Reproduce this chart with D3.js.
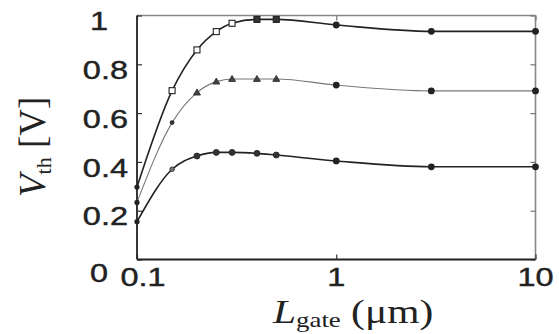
<!DOCTYPE html>
<html>
<head>
<meta charset="utf-8">
<script src="https://cdn.jsdelivr.net/npm/d3@7"></script>
<style>
  html, body { margin: 0; padding: 0; background: #fff; }
  svg { display: block; }
</style>
</head>
<body>
<svg id="chart" width="559" height="334"></svg>
<script>
// ---- data ----
const gateLengths = [0.1, 0.15, 0.2, 0.25, 0.3, 0.4, 0.5, 1, 3, 10];
const seriesTop    = [0.297, 0.692, 0.859, 0.934, 0.968, 0.984, 0.984, 0.961, 0.935, 0.935];
const seriesMiddle = [0.234, 0.561, 0.684, 0.729, 0.740, 0.740, 0.740, 0.715, 0.691, 0.691];
const seriesBottom = [0.155, 0.370, 0.424, 0.439, 0.439, 0.435, 0.428, 0.404, 0.380, 0.380];
const yTicks = [0, 0.2, 0.4, 0.6, 0.8, 1];
const yTickLabels = ["0", "0.2", "0.4", "0.6", "0.8", "1"];
const xTicks = [0.1, 1, 10];
const xTickLabels = ["0.1", "1", "10"];

(function () {
const svg = d3.select("#chart");
const pLeft = 137, pRight = 535.5, pTop = 15.5, pBottom = 259.5;

const x = d3.scaleLog().domain([0.1, 10]).range([pLeft, pRight]);
const y = d3.scaleLinear().domain([0, 1]).range([pBottom, pTop]);

// frame
svg.append("line").attr("x1", pLeft).attr("x2", pRight).attr("y1", pTop).attr("y2", pTop)
  .attr("stroke", "#888").attr("stroke-width", 1.6);
svg.append("line").attr("x1", pRight).attr("x2", pRight).attr("y1", pTop).attr("y2", pBottom)
  .attr("stroke", "#888").attr("stroke-width", 1.6);

// axes via d3 (inward ticks)
const yAxisL = d3.axisLeft(y).tickValues(yTicks).tickSize(-5).tickFormat("");
const yAxisR = d3.axisRight(y).tickValues(yTicks).tickSize(-5).tickFormat("");
const xAxisB = d3.axisBottom(x).tickValues(xTicks).tickSize(-5).tickFormat("");
const xAxisT = d3.axisTop(x).tickValues(xTicks).tickSize(-5).tickFormat("");

function styleAxis(g, col, w) {
  g.select(".domain").remove();
  g.selectAll("line").attr("stroke", col).attr("stroke-width", w);
}
svg.append("g").attr("transform", `translate(${pRight},0)`).call(yAxisR).call(g => styleAxis(g, "#777", 1.2));
svg.append("g").attr("transform", `translate(0,${pTop})`).call(xAxisT).call(g => styleAxis(g, "#777", 1.2));
svg.append("g").attr("transform", `translate(${pLeft},0)`).call(yAxisL).call(g => styleAxis(g, "#333", 1.2));
svg.append("g").attr("transform", `translate(0,${pBottom})`).call(xAxisB).call(g => styleAxis(g, "#333", 1.2));

svg.append("line").attr("x1", pLeft).attr("x2", pLeft).attr("y1", pTop).attr("y2", pBottom)
  .attr("stroke", "#222").attr("stroke-width", 1.8);
svg.append("line").attr("x1", pLeft).attr("x2", pRight).attr("y1", pBottom).attr("y2", pBottom)
  .attr("stroke", "#222").attr("stroke-width", 1.8);

// tick labels
const tickFont = "'Liberation Sans', Arial, sans-serif";
yTicks.forEach((v, i) => {
  const lab = yTickLabels[i];
  const isInt = Number.isInteger(v);
  const ax = isInt ? 108 : 128;
  const ay = y(v) + (v === 0 ? 14 : 6);
  svg.append("text")
    .attr("transform", `translate(${ax},${ay}) scale(1.3,1)`)
    .attr("text-anchor", "end").attr("dominant-baseline", "central")
    .attr("font-family", tickFont).attr("font-size", 25).attr("fill", "#222")
    .attr("stroke", "#222").attr("stroke-width", 0.4)
    .text(lab);
});
xTicks.forEach((v, i) => {
  const dx = i === 0 ? 6 : 0;
  svg.append("text")
    .attr("transform", `translate(${x(v) + dx},${pBottom + 17.5}) scale(1.3,1)`)
    .attr("text-anchor", "middle").attr("dominant-baseline", "central")
    .attr("font-family", tickFont).attr("font-size", 25).attr("fill", "#222")
    .attr("stroke", "#222").attr("stroke-width", 0.4)
    .text(xTickLabels[i]);
});

// axis titles (serif)
const serif = "'Liberation Serif', 'Times New Roman', serif";
const xt = svg.append("text")
  .attr("transform", `translate(273,323) scale(1.22,1)`)
  .attr("font-family", serif).attr("font-size", 34).attr("fill", "#222");
xt.append("tspan").attr("font-style", "italic").text("L");
xt.append("tspan").attr("font-size", 22).attr("dy", 4).text("gate");
xt.append("tspan").attr("dy", -4).text(" (μm)");

const yt = svg.append("text")
  .attr("transform", `translate(45,197) rotate(-90)`)
  .attr("font-family", serif).attr("font-size", 37).attr("fill", "#222");
yt.append("tspan").attr("font-style", "italic").text("V");
yt.append("tspan").attr("font-size", 22).attr("dy", 6).text("th");
yt.append("tspan").attr("dy", -6).text(" [V]");

// lines
const line = d3.line().x(d => x(d[0])).y(d => y(d[1])).curve(d3.curveMonotoneX);
const seriesDefs = [
  { vals: seriesTop, color: "#222", width: 1.6, marker: "square" },
  { vals: seriesMiddle, color: "#777", width: 1.1, marker: "triangle" },
  { vals: seriesBottom, color: "#222", width: 1.6, marker: "circle" }
];
seriesDefs.forEach(s => {
  const pts = gateLengths.map((L, i) => [L, s.vals[i]]);
  svg.append("path").datum(pts).attr("d", line)
    .attr("fill", "none").attr("stroke", s.color).attr("stroke-width", s.width);
  const g = svg.append("g");
  pts.forEach(([L, v], i) => {
    const cx = x(L), cy = y(v);
    if (i === 0 || L >= 1) {
      g.append("circle").attr("cx", cx).attr("cy", cy).attr("r", i === 0 ? 2.6 : 3.4).attr("fill", "#222");
      return;
    }
    if (s.marker === "square") {
      const open = L < 0.4;
      g.append("rect").attr("x", cx - 3).attr("y", cy - 3).attr("width", 6).attr("height", 6)
        .attr("fill", open ? "#fff" : "#333").attr("stroke", "#222").attr("stroke-width", 1.1);
    } else if (s.marker === "triangle") {
      if (L < 0.2) {
        g.append("circle").attr("cx", cx).attr("cy", cy).attr("r", 2.4).attr("fill", "#333");
      } else {
        const t = 3.5;
        g.append("path").attr("d", `M${cx},${cy - t} L${cx + t},${cy + t * 0.7} L${cx - t},${cy + t * 0.7}Z`)
          .attr("fill", "#444").attr("stroke", "#222").attr("stroke-width", 0.8);
      }
    } else {
      g.append("circle").attr("cx", cx).attr("cy", cy).attr("r", L < 0.2 ? 2.3 : 3)
        .attr("fill", L < 0.2 ? "#777" : "#333").attr("stroke", "#222").attr("stroke-width", 0.8);
    }
  });
});
})();
</script>
</body>
</html>
